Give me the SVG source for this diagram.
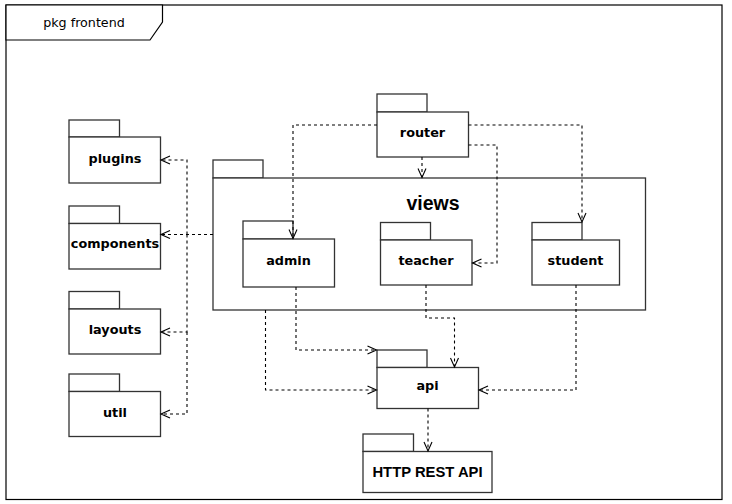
<svg xmlns="http://www.w3.org/2000/svg" width="732" height="504" viewBox="0 0 732 504">
<style>
.frame{fill:#fff;stroke:#000;stroke-width:1.2}
.box{fill:#fff;stroke:#333;stroke-width:1.3}
.lbl{font-family:"DejaVu Sans",Verdana,sans-serif;font-weight:bold;font-size:12.8px;fill:#000;text-anchor:middle}
.edge{fill:none;stroke:#000;stroke-width:1.1;stroke-dasharray:3 3}
</style>
<defs>
<marker id="arr" markerUnits="userSpaceOnUse" markerWidth="12" markerHeight="12" refX="9" refY="4.5" orient="auto" overflow="visible">
<path d="M0,0.5 L9,4.5 L0,8.5" fill="none" stroke="#000" stroke-width="1.1" stroke-dasharray="none"/>
</marker>
</defs>
<rect x="0" y="0" width="732" height="504" fill="#fff"/>
<g id="frame">
<rect class="frame" x="6" y="5" width="716" height="494.5"/>
<path class="frame" d="M6,5 H162.5 V22 L150,40 H6 Z"/>
<text x="84" y="27" font-family="'DejaVu Sans',Verdana,sans-serif" font-size="12.7" text-anchor="middle" fill="#000">pkg frontend</text>
</g>
<g id="views">
<rect class="box" x="213" y="160" width="50" height="18"/>
<rect class="box" x="213" y="178" width="432.5" height="132"/>
<text x="433" y="210" font-family="'Liberation Sans',Arial,sans-serif" font-weight="bold" font-size="19.5" text-anchor="middle" fill="#000">views</text>
</g>
<g id="plugins">
<rect class="box" x="69" y="120" width="50.5" height="17"/>
<rect class="box" x="69" y="137" width="91.5" height="46"/>
<text class="lbl" x="115" y="163">plugins</text>
</g>
<g id="components">
<rect class="box" x="69" y="206" width="50.5" height="17.5"/>
<rect class="box" x="69" y="223.5" width="91.5" height="45.5"/>
<text class="lbl" x="115" y="248">components</text>
</g>
<g id="layouts">
<rect class="box" x="69" y="291.5" width="50.5" height="17.5"/>
<rect class="box" x="69" y="309" width="91.5" height="45"/>
<text class="lbl" x="115" y="334">layouts</text>
</g>
<g id="util">
<rect class="box" x="69" y="374" width="50.5" height="17.5"/>
<rect class="box" x="69" y="391.5" width="91.5" height="45"/>
<text class="lbl" x="115" y="417">util</text>
</g>
<g id="router">
<rect class="box" x="377" y="94" width="50" height="18"/>
<rect class="box" x="377" y="112" width="91.5" height="45"/>
<text class="lbl" x="422.5" y="137">router</text>
</g>
<g id="admin">
<rect class="box" x="243" y="221" width="50" height="18"/>
<rect class="box" x="243" y="239" width="91.5" height="48"/>
<text class="lbl" x="288.5" y="265">admin</text>
</g>
<g id="teacher">
<rect class="box" x="380.5" y="222.5" width="50" height="17.5"/>
<rect class="box" x="380.5" y="240" width="91.5" height="45"/>
<text class="lbl" x="426" y="265">teacher</text>
</g>
<g id="student">
<rect class="box" x="532" y="222.5" width="50" height="17.5"/>
<rect class="box" x="532" y="240" width="87.5" height="45"/>
<text class="lbl" x="575.5" y="265">student</text>
</g>
<g id="api">
<rect class="box" x="377" y="350" width="50" height="17.5"/>
<rect class="box" x="377" y="367.5" width="101.5" height="41"/>
<text class="lbl" x="427.5" y="390">api</text>
</g>
<g id="http">
<rect class="box" x="363" y="434" width="50.5" height="17.5"/>
<rect class="box" x="363" y="451.5" width="129" height="41"/>
<text x="427.5" y="477" font-family="'Liberation Sans',Arial,sans-serif" font-weight="bold" font-size="14.8" text-anchor="middle" fill="#000">HTTP REST API</text>
</g>
<g id="connectors">
<path class="edge" d="M213,234.5 H161" marker-end="url(#arr)"/>
<path class="edge" d="M187,234.5 V160 H161" marker-end="url(#arr)"/>
<path class="edge" d="M187,234.5 V332 H161" marker-end="url(#arr)"/>
<path class="edge" d="M187,332 V414 H161" marker-end="url(#arr)"/>
<path class="edge" d="M377,125 H293 V238.5" marker-end="url(#arr)"/>
<path class="edge" d="M422,157 V177.5" marker-end="url(#arr)"/>
<path class="edge" d="M468.5,145 H497 V263 H472.5" marker-end="url(#arr)"/>
<path class="edge" d="M468.5,125 H582 V222" marker-end="url(#arr)"/>
<path class="edge" d="M265.5,310 V390 H376.5" marker-end="url(#arr)"/>
<path class="edge" d="M296,287 V350 H376.5" marker-end="url(#arr)"/>
<path class="edge" d="M426,285 V318 H454.5 V367" marker-end="url(#arr)"/>
<path class="edge" d="M576,285 V390 H479" marker-end="url(#arr)"/>
<path class="edge" d="M428,408.5 V451" marker-end="url(#arr)"/>
</g>
</svg>
